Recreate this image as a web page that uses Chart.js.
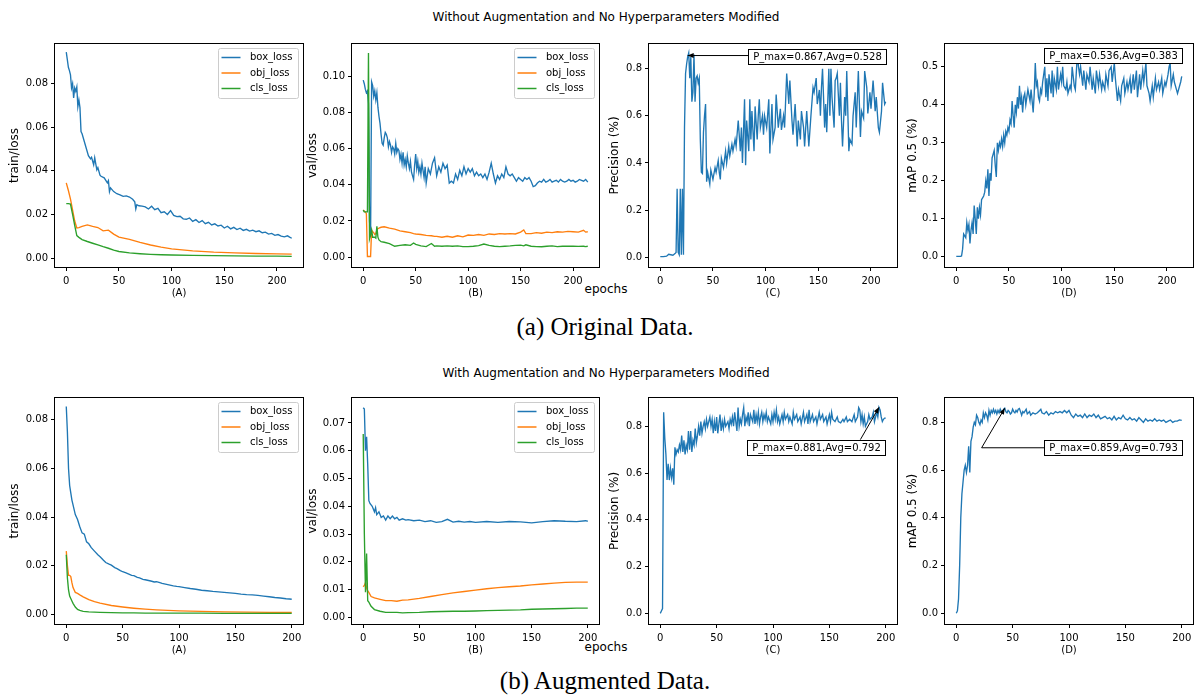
<!DOCTYPE html>
<html>
<head>
<meta charset="utf-8">
<script src="https://cdn.jsdelivr.net/npm/chart.js@4.4.1/dist/chart.umd.min.js"></script>
<style>
  body { margin: 0; background: #fff; width: 1196px; height: 698px; position: relative; overflow: hidden; font-family: "DejaVu Sans", sans-serif; }
  canvas { position: absolute; }
  .txt { position: absolute; white-space: nowrap; transform: translateX(-50%); color: #000; }
  .sup { font-size: 12px; line-height: 12px; }
  .cap { font-family: "Liberation Serif", "Times New Roman", serif; font-size: 25px; line-height: 25px; }
</style>
</head>
<body>
<div class="txt sup" style="left:606px;top:11px">Without Augmentation and No Hyperparameters Modified</div>
<div class="txt sup" style="left:606px;top:283px">epochs</div>
<div class="txt cap" style="left:605px;top:314px">(a) Original Data.</div>
<div class="txt sup" style="left:606px;top:367px">With Augmentation and No Hyperparameters Modified</div>
<div class="txt sup" style="left:606px;top:641px">epochs</div>
<div class="txt cap" style="left:605px;top:668px">(b) Augmented Data.</div>

<script>
// ---- without augmentation (epochs 0..214) ----
const a1BoxEp = [0,1,2,3,4,5,6,7,8,9,10,11,12,13,14,15,18,21,23,24,26,27,29,30,32,33,
  36,39,40,41,42,45,48,51,54,57,60,63,65,66,67,69,
  72,75,78,81,84,87,90,93,96,99,102,105,108,111,114,117,120,123,126,129,
  132,135,138,141,144,147,150,153,156,159,162,165,168,171,174,177,180,183,186,189,
  192,195,198,201,204,207,210,212,214];
const a1Box = [0.0945,0.091,0.0875,0.086,0.084,0.078,0.080,0.0735,0.078,0.0765,0.0785,0.0695,0.0725,0.069,0.058,0.057,
  0.052,0.047,0.0455,0.0462,0.0428,0.046,0.0405,0.0415,0.038,0.0375,
  0.0368,0.0345,0.0355,0.0305,0.0322,0.0305,0.0295,0.029,0.0283,0.0285,0.028,0.027,0.0258,0.0225,0.0245,0.024,
  0.0238,0.0235,0.0225,0.0238,0.0222,0.0228,0.0208,0.0212,0.0200,0.0218,0.0196,0.019,0.0192,0.018,0.0178,0.0184,0.0168,0.0176,0.0163,0.0172,
  0.0158,0.0164,0.0152,0.0157,0.0147,0.0151,0.0138,0.0146,0.0134,0.0141,0.0131,0.0137,0.0127,0.0132,0.0124,0.0128,0.0121,0.0125,0.0116,0.0119,
  0.011,0.0113,0.0104,0.0108,0.0101,0.0097,0.0102,0.0096,0.0091];
const a1Ep = [0,2,4,6,8,10,12,15,20,25,30,35,40,45,50,60,70,80,90,100,120,140,160,180,200,214];
const a1Obj = [0.0345,0.031,0.027,0.022,0.017,0.0138,0.014,0.0145,0.0152,0.0145,0.014,0.0125,0.0128,0.011,0.0096,0.0086,0.0072,0.006,0.005,0.0042,0.0033,0.0027,0.0024,0.0021,0.0019,0.0018];
const a1Cls = [0.025,0.025,0.0248,0.02,0.015,0.0103,0.0095,0.0085,0.0076,0.0068,0.006,0.0052,0.0045,0.0036,0.003,0.0024,0.002,0.0017,0.0015,0.0014,0.0012,0.0011,0.001,0.0009,0.0009,0.0008];

const b1BoxEp = [0,1,2,3,4,5,6,7,8,9,10,11,12,13,14,15,16,17,18,19,20,21,22,23,24,25,26,27,28,29,
  30,31,32,33,34,35,36,37,38,39,40,41,42,43,44,45,46,47,48,49,50,51,52,53,54,55,56,57,58,59,60,
  62,64,66,68,70,72,74,76,78,80,82,84,86,88,90,92,94,96,98,100,102,104,106,108,110,112,114,116,118,120,
  122,124,126,128,130,132,134,136,138,140,142,144,146,148,150,152,154,156,158,160,162,164,166,168,170,172,174,176,178,180,
  182,184,186,188,190,192,194,196,198,200,202,204,206,208,210,212,214];
const b1Box = [0.098,0.096,0.093,0.091,0.092,0.085,0.02,0.011,0.097,0.095,0.089,0.092,0.087,0.091,0.083,0.078,0.074,0.068,0.063,0.062,
  0.066,0.069,0.068,0.066,0.061,0.064,0.062,0.058,0.061,0.06,0.057,0.063,0.058,0.06,0.059,0.054,0.057,0.052,0.058,0.051,
  0.054,0.05,0.056,0.052,0.049,0.053,0.047,0.045,0.043,0.051,0.057,0.049,0.053,0.047,0.05,0.046,0.052,0.048,0.044,0.05,0.041,
  0.049,0.046,0.052,0.055,0.045,0.05,0.047,0.052,0.049,0.051,0.041,0.042,0.041,0.046,0.043,0.048,0.045,0.05,0.046,0.049,
  0.047,0.049,0.045,0.047,0.045,0.046,0.044,0.046,0.043,0.047,0.052,0.046,0.041,0.045,0.043,0.046,0.044,0.05,0.046,0.045,
  0.046,0.044,0.042,0.044,0.043,0.042,0.044,0.043,0.044,0.042,0.039,0.0395,0.041,0.042,0.0415,0.043,0.0415,0.042,0.043,0.0415,
  0.042,0.0425,0.0415,0.043,0.042,0.0415,0.042,0.043,0.042,0.0425,0.0415,0.042,0.043,0.0425,0.042,0.043,0.0415];
const b1Ep = [0,1,2,3,4,5,6,7,8,9,10,11,12,13,14,15,17,20,25,30,35,40,45,48,50,
  55,60,65,68,70,75,80,85,90,95,100,105,110,115,120,125,130,135,140,145,150,153,
  155,160,165,170,175,180,185,190,195,200,205,210,212,214];
const b1Obj = [0.026,0.0255,0.025,0.024,0.0003,0.0003,0.0003,0.0003,0.015,0.014,0.0135,0.0125,0.013,0.015,0.0158,0.016,
  0.0165,0.0168,0.016,0.0155,0.0145,0.014,0.0135,0.013,0.0128,
  0.0125,0.012,0.0118,0.0115,0.0115,0.011,0.0115,0.011,0.0118,0.0112,0.0122,
  0.012,0.0125,0.012,0.0128,0.0125,0.013,0.0128,0.013,0.0128,0.0138,0.015,
  0.013,0.013,0.0135,0.0132,0.0138,0.0135,0.014,0.0138,0.0142,0.014,0.0138,0.0148,0.0138,0.014];
const b1Cls = [0.026,0.025,0.025,0.025,0.025,0.113,0.01,0.012,0.015,0.011,0.011,0.011,0.0105,0.017,0.011,0.0095,
  0.0085,0.0082,0.0075,0.006,0.0065,0.0068,0.0065,0.0078,0.007,
  0.0062,0.0058,0.0075,0.006,0.0062,0.006,0.0062,0.006,0.0062,0.0058,0.0058,
  0.006,0.0063,0.0072,0.0065,0.006,0.0058,0.006,0.0062,0.0065,0.0066,0.0062,
  0.0068,0.006,0.0058,0.0057,0.006,0.0062,0.0058,0.006,0.0061,0.006,0.0059,0.006,0.0058,0.006];

const c1Ep = [0,3,6,8,10,12,14,15,16,17, 18,19,20,21,22,23,24,25,26,27, 28,29,30,31,32,33,34,35,36,37,
  38,39,40,41,42,43,44,45,47,48, 50,52,53,55,56,57,58,60,62,63, 65,66,68,69,71,72,74,76,77,78,
  80,81,82,84,85,86,87,89,90,92, 93,94,95,97,98,99,101,103,104,106, 107,109,110,112,114,115,117,118,120,122,
  123,125,126,128,130,131,133,134,136,137, 139,141,143,145,146,148,149,151,152,153, 154,156,157,158,160,161,162,163,165,166,
  167,168,170,171,172,173,175,176,177,179, 180,182,183,185,186,188,190,191,193,194, 196,197,199,200,202,204,205,207,208,210,
  211,213,214];
const c1Prec = [0.002,0.002,0.004,0.012,0.01,0.008,0.015,0.02,0.29,0.02, 0.01,0.29,0.01,0.29,0.01,0.55,0.78,0.82,0.85,0.867,
  0.76,0.85,0.66,0.7,0.86,0.66,0.76,0.77,0.74,0.76, 0.5,0.36,0.355,0.53,0.6,0.65,0.32,0.36,0.31,0.37,
  0.33,0.38,0.36,0.41,0.36,0.33,0.42,0.38,0.45,0.4, 0.47,0.43,0.48,0.45,0.5,0.47,0.58,0.45,0.55,0.4,
  0.67,0.39,0.58,0.45,0.67,0.5,0.62,0.45,0.64,0.5, 0.6,0.67,0.55,0.6,0.52,0.6,0.55,0.67,0.44,0.65,
  0.5,0.55,0.69,0.55,0.63,0.54,0.6,0.55,0.78,0.65, 0.75,0.58,0.52,0.65,0.47,0.58,0.5,0.62,0.55,0.47,
  0.62,0.47,0.6,0.72,0.7,0.76,0.65,0.71,0.6,0.72, 0.8,0.55,0.65,0.53,0.8,0.6,0.8,0.68,0.55,0.75,
  0.76,0.78,0.6,0.74,0.58,0.47,0.68,0.6,0.79,0.45, 0.5,0.48,0.6,0.7,0.55,0.79,0.51,0.62,0.59,0.79,
  0.72,0.61,0.7,0.63,0.75,0.62,0.68,0.55,0.53,0.62, 0.74,0.65,0.66];

const d1Ep = [0,2,4,5,6,7,8,9,10,11, 12,13,14,15,16,17,18,19,20,21, 22,23,24,25,26,27,28,29,30,31,
  32,33,34,35,36,37,38,39,40,41, 42,43,44,45,46,47,48,49,50,51, 52,53,54,55,56,57,58,59,60,61,
  62,63,64,65,66,67,68,70,71,73, 74,75,76,77,78,79,80,81,82,84, 85,86,87,88,90,91,92,93,95,96,
  97,99,100,101,102,104,105,106,108,109, 110,112,113,115,116,117,118,120,121,123, 124,126,127,129,130,132,133,135,136,138,
  139,141,142,144,145,147,148,150,151,153, 154,156,157,159,160,162,163,165,166,168, 169,171,172,174,175,177,178,180,181,183,
  184,186,187,189,190,192,193,195,196,198, 199,201,202,203,204,206,207,209,210,212, 213,214];
const d1Map = [0.001,0.001,0.001,0.002,0.02,0.06,0.055,0.05,0.09,0.07, 0.085,0.035,0.07,0.09,0.06,0.135,0.1,0.06,0.13,0.1,
  0.13,0.11,0.15,0.155,0.16,0.17,0.2,0.18,0.23,0.16, 0.22,0.2,0.26,0.27,0.28,0.24,0.21,0.3,0.28,0.3,
  0.29,0.31,0.29,0.32,0.3,0.33,0.32,0.34,0.33,0.36, 0.35,0.41,0.37,0.34,0.4,0.38,0.42,0.39,0.45,0.4,
  0.42,0.38,0.42,0.43,0.4,0.42,0.44,0.41,0.44,0.38, 0.43,0.51,0.45,0.46,0.42,0.41,0.44,0.43,0.46,0.5,
  0.42,0.47,0.41,0.48,0.43,0.49,0.42,0.47,0.44,0.5, 0.44,0.48,0.46,0.5,0.45,0.44,0.46,0.43,0.45,0.44,
  0.5,0.45,0.44,0.536,0.5,0.48,0.5,0.45,0.49,0.44, 0.48,0.46,0.5,0.44,0.47,0.43,0.49,0.45,0.48,0.44,
  0.46,0.44,0.48,0.45,0.49,0.5,0.46,0.51,0.47,0.41, 0.44,0.41,0.45,0.47,0.43,0.46,0.44,0.47,0.43,0.48,
  0.44,0.49,0.42,0.48,0.44,0.49,0.46,0.51,0.45,0.43, 0.41,0.45,0.42,0.47,0.44,0.46,0.44,0.47,0.43,0.46,
  0.45,0.48,0.5,0.51,0.45,0.48,0.46,0.44,0.43,0.45, 0.46,0.475];

// ---- with augmentation (epochs 0..200) ----
const a2BoxEp = [0,1,2,3,4,5,6, 8,10,12,14,16,18,20,22,
  25,28,30,33,35,38,40,43,45,48,50,53,55,58,60,63,65,68,70,73,75,78,80,83,85,88,90,93,95,98,100,
  105,110,115,120,125,130,135,140,145,150,155,160,165,170,175,180,185,190,195,198,200];
const a2Box = [0.0855,0.075,0.06,0.053,0.05,0.047,0.045, 0.041,0.039,0.036,0.0335,0.033,0.0298,0.029,0.0275,
  0.026,0.0245,0.0237,0.0222,0.0213,0.0206,0.0202,0.0192,0.0188,0.018,0.0175,0.017,0.0166,0.016,0.0159,0.0152,
  0.015,0.0144,0.0142,0.0139,0.0137,0.0133,0.0134,0.013,0.0127,0.0124,0.0122,0.0119,0.0117,0.0115,0.0114,
  0.011,0.0106,0.0103,0.0099,0.0097,0.0094,0.0092,0.009,0.0088,0.0086,0.0083,0.0081,0.0080,0.0078,0.0075,0.0072,0.0069,0.0067,0.0064,0.0063,0.0062];
const a2Ep = [0,1,2,3,4,5,6,8,10,12,15,20,25,30,40,50,60,70,80,100,120,140,160,180,200];
const a2Obj = [0.026,0.02,0.016,0.016,0.0155,0.013,0.011,0.009,0.0086,0.008,0.0072,0.006,0.0052,0.0046,0.0036,0.003,0.0025,0.0021,0.0018,0.0014,0.0012,0.001,0.0009,0.0008,0.0008];
const a2Cls = [0.0245,0.015,0.01,0.0075,0.0065,0.0055,0.0045,0.003,0.002,0.0016,0.0012,0.001,0.0009,0.0008,0.0007,0.0006,0.0006,0.0005,0.0005,0.0005,0.0005,0.0004,0.0004,0.0004,0.0004];

const b2BoxEp = [0,1,2,3,4,5,6, 8,10,11,12,14,16,18,20,22,24,26,28,30,32, 35,38,40,
  45,50,55,60,65,70,75,80,85,90,95,100, 110,120,130,140,150,160,170,180,190, 198,200];
const b2Box = [0.0755,0.075,0.06,0.065,0.055,0.042,0.041, 0.04,0.038,0.0395,0.037,0.038,0.036,0.0365,0.035,0.0365,0.0355,0.0365,0.0355,0.036,0.035,
  0.0355,0.035,0.0352, 0.0348,0.035,0.0345,0.0348,0.0342,0.0345,0.0353,0.0343,0.0346,0.0343,0.0345,0.0342,
  0.0345,0.0342,0.0345,0.0344,0.034,0.0345,0.0348,0.0346,0.0345, 0.0348,0.0346];
const b2Ep = [0,1,2,3,4,5,7,10,15,20,25,30,35,40,50,60,70,80,90,100,110,120,130,140,150,160,170,180,190,200];
const b2Obj = [0.011,0.0115,0.0125,0.0105,0.0095,0.009,0.0075,0.007,0.0065,0.006,0.006,0.0058,0.0062,0.0063,0.0068,
  0.0075,0.0082,0.0088,0.0093,0.0098,0.0103,0.0107,0.011,0.0113,0.0117,0.012,0.0123,0.0126,0.0127,0.0127];
const b2Cls = [0.066,0.03,0.009,0.023,0.006,0.0055,0.004,0.0028,0.0022,0.0018,0.0018,0.0018,0.0016,0.0017,0.0018,
  0.002,0.0021,0.0022,0.0022,0.0023,0.0024,0.0025,0.0026,0.0027,0.0029,0.003,0.0031,0.0032,0.0033,0.0033];

const c2Ep = [0,1,2,3,4,5,6,7,8,9, 10,11,12,13,14,15,16,17,18,19, 20,21,22,23,24,25,26,27,28,29,
  30,31,32,33,34,35,36,37,38,39, 40,41,42,43,44,45,46,47,48,49, 50,51,52,53,54,55,56,57,58,60,
  61,62,63,64,65,66,67,68,69,70, 71,72,73,74,75,76,77,78,79,80, 82,83,84,85,86,87,88,89,90,91,
  92,93,94,95,96,98,99,100,101,102, 103,104,105,106,108,109,110,111,113,114, 115,117,118,119,121,122,124,125,127,128,
  130,131,132,133,135,136,138,139,141,142, 144,145,147,148,150,151,152,153,155,157, 158,160,162,163,165,166,168,170,172,173,
  175,176,177,178,179,180,181,182,184,185, 186,188,189,190,192,193,194,195,196,197, 198,199,200];
const c2Prec = [0.0,0.01,0.02,0.86,0.75,0.68,0.57,0.64,0.57,0.62, 0.58,0.62,0.55,0.71,0.68,0.7,0.69,0.72,0.7,0.76,
  0.69,0.74,0.68,0.72,0.7,0.78,0.7,0.78,0.69,0.74, 0.72,0.79,0.73,0.76,0.8,0.76,0.82,0.77,0.8,0.82,
  0.79,0.83,0.8,0.82,0.84,0.8,0.83,0.77,0.82,0.78, 0.84,0.77,0.81,0.85,0.78,0.82,0.79,0.83,0.8,0.82,
  0.79,0.83,0.81,0.84,0.8,0.86,0.82,0.78,0.88,0.8, 0.83,0.81,0.85,0.88,0.8,0.84,0.82,0.86,0.8,0.85,
  0.82,0.87,0.81,0.85,0.82,0.86,0.81,0.84,0.86,0.82, 0.85,0.83,0.86,0.82,0.84,0.81,0.85,0.82,0.86,0.83,
  0.87,0.82,0.84,0.81,0.85,0.82,0.86,0.83,0.85,0.82, 0.84,0.81,0.86,0.83,0.85,0.82,0.84,0.81,0.86,0.82,
  0.85,0.81,0.87,0.82,0.85,0.82,0.84,0.81,0.86,0.83, 0.85,0.82,0.84,0.81,0.85,0.82,0.86,0.83,0.82,0.84,
  0.82,0.815,0.83,0.82,0.84,0.82,0.83,0.82,0.85,0.82, 0.84,0.88,0.87,0.82,0.85,0.81,0.84,0.8,0.82,0.85,
  0.83,0.84,0.86,0.82,0.86,0.84,0.881,0.87,0.84,0.82, 0.83,0.835,0.835];

const d2Ep = [0,1,2,3,4,5,6,7,8,9, 10,11,12,13,14,15,16,17,18,19, 20,21,22,23,24,25,26,27,28,29,
  30,31,32,33,34,35,36,37,38,39, 40,41,42,43,44,45,46,47,48,49, 50,51,52,53,54,55,56,57,58,59,
  60,62,63,65,66,68,70,72,74,75, 76,78,80,82,84,86,88,90,92,94, 96,98,100,102,104,106,108,110,112,114,
  116,118,120,122,124,126,128,130,132,134, 136,138,140,142,144,146,148,150,152,154, 156,158,160,162,164,166,168,170,172,174,
  176,178,180,182,184,186,188,190,192,194, 196,198,200];
const d2Map = [0.0,0.01,0.06,0.2,0.4,0.5,0.55,0.6,0.62,0.59, 0.62,0.7,0.59,0.72,0.74,0.78,0.8,0.79,0.83,0.82,
  0.8,0.79,0.81,0.8,0.84,0.82,0.84,0.83,0.81,0.85, 0.83,0.85,0.84,0.855,0.84,0.85,0.835,0.85,0.84,0.855,
  0.845,0.84,0.855,0.859,0.845,0.84,0.85,0.845,0.835,0.84, 0.855,0.845,0.84,0.85,0.843,0.855,0.858,0.845,0.83,0.845,
  0.84,0.855,0.835,0.845,0.83,0.84,0.835,0.84,0.85,0.855, 0.84,0.835,0.845,0.83,0.84,0.835,0.845,0.84,0.845,0.84,
  0.85,0.84,0.85,0.83,0.82,0.835,0.825,0.83,0.82,0.835, 0.82,0.83,0.825,0.835,0.82,0.83,0.815,0.82,0.825,0.815,
  0.82,0.81,0.825,0.81,0.82,0.815,0.83,0.815,0.81,0.82, 0.81,0.815,0.805,0.82,0.81,0.8,0.815,0.805,0.81,0.805,
  0.815,0.805,0.81,0.805,0.81,0.8,0.805,0.81,0.8,0.805, 0.805,0.81,0.808];

// ---- tick labels ----
const xTicks = [0, 50, 100, 150, 200];
const yTicksA1 = ["0.00", "0.02", "0.04", "0.06", "0.08"];
const yTicksB1 = ["0.00", "0.02", "0.04", "0.06", "0.08", "0.10"];
const yTicksC1 = ["0.0", "0.2", "0.4", "0.6", "0.8"];
const yTicksD1 = ["0.0", "0.1", "0.2", "0.3", "0.4", "0.5"];
const yTicksA2 = ["0.00", "0.02", "0.04", "0.06", "0.08"];
const yTicksB2 = ["0.00", "0.01", "0.02", "0.03", "0.04", "0.05", "0.06", "0.07"];
const yTicksC2 = ["0.0", "0.2", "0.4", "0.6", "0.8"];
const yTicksD2 = ["0.0", "0.2", "0.4", "0.6", "0.8"];

const blue = "#1f77b4", orange = "#ff7f0e", green = "#2ca02c";
const FONT = "DejaVu Sans";
const YW = 50, PT = 8, PR = 6, XH = 36;

function pts(xs, ys) {
  return xs.map((x, i) => ({ x: x, y: ys[i] }));
}

function lossSeries(boxEp, box, ep, obj, cls) {
  return [
    { ep: boxEp, v: box, label: "box_loss", color: blue },
    { ep: ep, v: obj, label: "obj_loss", color: orange },
    { ep: ep, v: cls, label: "cls_loss", color: green }
  ];
}

const panels = [
  { left: 55, top: 43, width: 248, height: 224, xr: [-10.7, 224.7], yr: [-0.0041, 0.0982], yTicks: yTicksA1,
    yLabel: "train/loss", xLabel: "(A)", tpad: 2.8, legend: true,
    series: lossSeries(a1BoxEp, a1Box, a1Ep, a1Obj, a1Cls) },
  { left: 352, top: 43, width: 247, height: 224, xr: [-10.7, 224.7], yr: [-0.0055, 0.118], yTicks: yTicksB1,
    yLabel: "val/loss", xLabel: "(B)", tpad: 3.8, legend: true,
    series: lossSeries(b1BoxEp, b1Box, b1Ep, b1Obj, b1Cls) },
  { left: 649, top: 43, width: 248, height: 224, xr: [-10.7, 224.7], yr: [-0.042, 0.905], yTicks: yTicksC1,
    yLabel: "Precision (%)", xLabel: "(C)", tpad: 8.8,
    series: [{ ep: c1Ep, v: c1Prec, color: blue }],
    note: { text: "P_max=0.867,Avg=0.528", box: [148.5, 0.854], path: [[148.5, 0.856], [26, 0.856]] } },
  { left: 945, top: 43, width: 248, height: 224, xr: [-10.7, 224.7], yr: [-0.027, 0.56], yTicks: yTicksD1,
    yLabel: "mAP 0.5 (%)", xLabel: "(D)", tpad: 10.8,
    series: [{ ep: d1Ep, v: d1Map, color: blue }],
    note: { text: "P_max=0.536,Avg=0.383", box: [148.3, 0.5295], path: [[148.3, 0.5295], [115, 0.536]] } },

  { left: 55, top: 397, width: 248, height: 227, xr: [-10, 210], yr: [-0.004, 0.089], yTicks: yTicksA2,
    yLabel: "train/loss", xLabel: "(A)", tpad: 2.8, legend: true,
    series: lossSeries(a2BoxEp, a2Box, a2Ep, a2Obj, a2Cls) },
  { left: 352, top: 397, width: 247, height: 227, xr: [-10, 210], yr: [-0.0024, 0.079], yTicks: yTicksB2,
    yLabel: "val/loss", xLabel: "(B)", tpad: 3.8, legend: true,
    series: lossSeries(b2BoxEp, b2Box, b2Ep, b2Obj, b2Cls) },
  { left: 649, top: 397, width: 248, height: 227, xr: [-10, 210], yr: [-0.0456, 0.921], yTicks: yTicksC2,
    yLabel: "Precision (%)", xLabel: "(C)", tpad: 8.8,
    series: [{ ep: c2Ep, v: c2Prec, color: blue }],
    note: { text: "P_max=0.881,Avg=0.792", box: [138.5, 0.708], path: [[177.5, 0.743], [194, 0.881]] } },
  { left: 945, top: 397, width: 248, height: 227, xr: [-10, 210], yr: [-0.0447, 0.902], yTicks: yTicksD2,
    yLabel: "mAP 0.5 (%)", xLabel: "(D)", tpad: 10.8,
    series: [{ ep: d2Ep, v: d2Map, color: blue }],
    note: { text: "P_max=0.859,Avg=0.793", box: [138.6, 0.6935], path: [[138.6, 0.6935], [22.5, 0.6935], [43, 0.859]] } }
];

function drawExtras(chart, spec) {
  const ctx = chart.ctx, a = chart.chartArea;
  const sx = chart.scales.x, sy = chart.scales.y;
  ctx.save();
  ctx.strokeStyle = "#000";
  ctx.lineWidth = 1;
  ctx.strokeRect(a.left - 0.5, a.top - 0.5, a.right - a.left + 1, a.bottom - a.top + 1);

  if (spec.legend) {
    const w = 80, h = 50, x0 = a.right - 5 - w, y0 = a.top + 4;
    ctx.beginPath();
    ctx.roundRect(x0 + 0.5, y0 + 0.5, w, h, 2);
    ctx.fillStyle = "rgba(255,255,255,0.8)";
    ctx.fill();
    ctx.strokeStyle = "#cccccc";
    ctx.stroke();
    ctx.font = "10px '" + FONT + "'";
    ctx.textBaseline = "middle";
    spec.series.forEach((s, i) => {
      const y = y0 + 9.5 + i * 15.5;
      ctx.strokeStyle = s.color;
      ctx.lineWidth = 1.5;
      ctx.beginPath();
      ctx.moveTo(x0 + 3.5, y);
      ctx.lineTo(x0 + 22.5, y);
      ctx.stroke();
      ctx.fillStyle = "#000";
      ctx.fillText(s.label, x0 + 32, y);
    });
  }

  if (spec.note) {
    const n = spec.note;
    const p = n.path.map(q => [sx.getPixelForValue(q[0]), sy.getPixelForValue(q[1])]);
    ctx.strokeStyle = "#000";
    ctx.fillStyle = "#000";
    ctx.lineWidth = 1;
    ctx.beginPath();
    p.forEach((q, i) => i ? ctx.lineTo(q[0], q[1]) : ctx.moveTo(q[0], q[1]));
    ctx.stroke();
    const [x1, y1] = p[p.length - 2], [x2, y2] = p[p.length - 1];
    const ang = Math.atan2(y2 - y1, x2 - x1), L = 6, W = 2.5;
    const bx = x2 - L * Math.cos(ang), by = y2 - L * Math.sin(ang);
    ctx.beginPath();
    ctx.moveTo(x2, y2);
    ctx.lineTo(bx + W * Math.sin(ang), by - W * Math.cos(ang));
    ctx.lineTo(bx - W * Math.sin(ang), by + W * Math.cos(ang));
    ctx.closePath();
    ctx.fill();

    ctx.font = "10px '" + FONT + "'";
    const tw = ctx.measureText(n.text).width;
    const bw = Math.round(tw + 9), bh = 15;
    const cx = sx.getPixelForValue(n.box[0]), cy = sy.getPixelForValue(n.box[1]);
    const rx = Math.round(cx - bw / 2) + 0.5, ry = Math.round(cy - bh / 2) + 0.5;
    ctx.fillStyle = "#fff";
    ctx.fillRect(rx, ry, bw, bh);
    ctx.strokeRect(rx, ry, bw, bh);
    ctx.fillStyle = "#000";
    ctx.textAlign = "center";
    ctx.textBaseline = "middle";
    ctx.fillText(n.text, rx + bw / 2, ry + bh / 2 + 0.5);
  }
  ctx.restore();
}

function makePanel(spec) {
  const canvas = document.createElement("canvas");
  canvas.width = YW + spec.width + PR;
  canvas.height = PT + spec.height + XH;
  canvas.style.left = (spec.left - YW) + "px";
  canvas.style.top = (spec.top - PT) + "px";
  document.body.appendChild(canvas);

  const tickGrid = { display: true, drawOnChartArea: false, drawTicks: true, tickLength: 4, tickColor: "#000", tickWidth: 1 };
  const n = spec.series.length;

  new Chart(canvas.getContext("2d"), {
    type: "line",
    data: {
      datasets: spec.series.map((s, i) => ({
        data: pts(s.ep, s.v),
        borderColor: s.color,
        borderWidth: 1.35,
        pointRadius: 0,
        fill: false,
        tension: 0,
        order: n - i
      }))
    },
    options: {
      responsive: false,
      animation: false,
      devicePixelRatio: 1,
      layout: { padding: { left: 0, top: PT, right: PR, bottom: 0 } },
      plugins: { legend: { display: false }, tooltip: { enabled: false } },
      scales: {
        x: {
          type: "linear", bounds: "data", min: spec.xr[0], max: spec.xr[1],
          afterBuildTicks: s => { s.ticks = xTicks.map(v => ({ value: v })); },
          afterFit: s => { s.height = XH; },
          grid: tickGrid,
          border: { display: false },
          ticks: { color: "#000", font: { family: FONT, size: 10 }, padding: 4, maxRotation: 0, autoSkip: false,
                   callback: v => String(v) },
          title: { display: true, text: spec.xLabel, color: "#000", font: { family: FONT, size: 10 },
                   padding: { top: 0, bottom: 4 } }
        },
        y: {
          type: "linear", bounds: "data", min: spec.yr[0], max: spec.yr[1],
          afterBuildTicks: s => { s.ticks = spec.yTicks.map(t => ({ value: parseFloat(t) })); },
          afterFit: s => { s.width = YW; },
          grid: tickGrid,
          border: { display: false },
          ticks: { color: "#000", font: { family: FONT, size: 10 }, padding: 3, autoSkip: false,
                   callback: (v, i) => spec.yTicks[i] },
          title: { display: true, text: spec.yLabel, color: "#000", font: { family: FONT, size: 12 },
                   padding: { top: spec.tpad, bottom: 0 } }
        }
      }
    },
    plugins: [{ id: "extras", afterDraw: chart => drawExtras(chart, spec) }]
  });
}

panels.forEach(makePanel);
</script>
</body>
</html>
